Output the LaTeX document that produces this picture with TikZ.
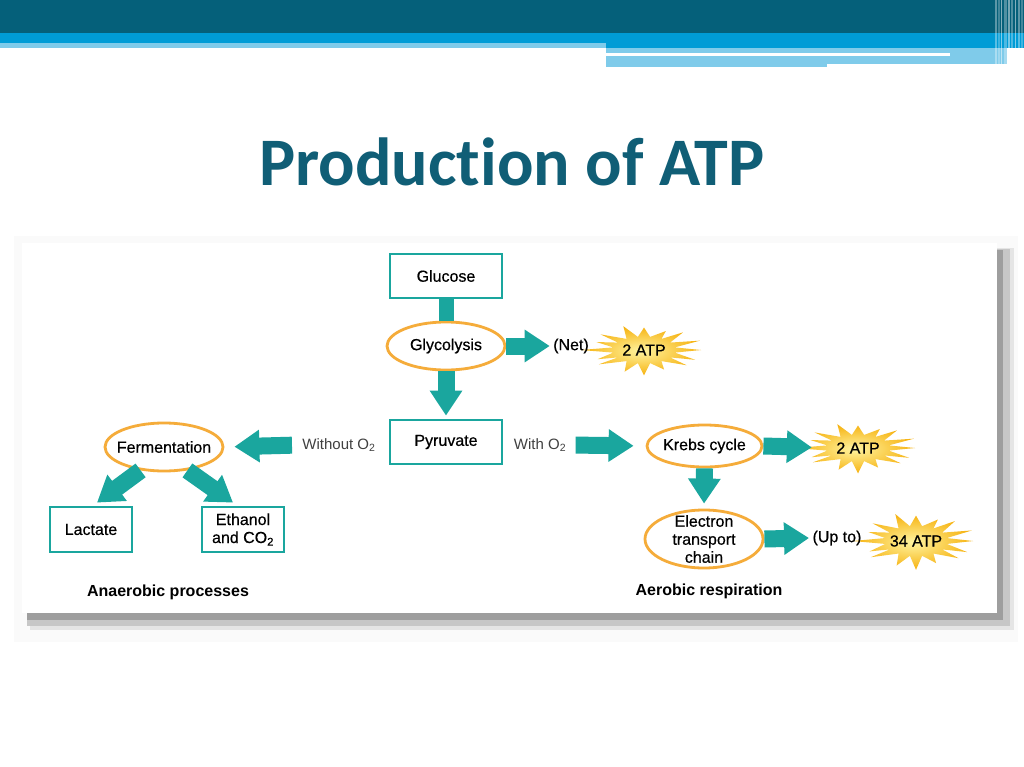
\documentclass[tikz,border=0pt]{standalone}
\usepackage{fontspec}
\setsansfont{Liberation Sans}
\newfontfamily\titlefont[Ligatures=NoCommon]{Carlito}
\newfontfamily\medfont[FakeBold=0.5]{Liberation Sans}
\usetikzlibrary{arrows.meta,shapes.geometric,calc}
\definecolor{hdark}{RGB}{5,96,122}
\definecolor{hblue}{RGB}{0,156,214}
\definecolor{hlight}{RGB}{127,203,234}
\definecolor{titlec}{RGB}{16,94,118}
\definecolor{tealc}{RGB}{26,166,158}
\definecolor{orangec}{RGB}{245,172,58}
\definecolor{burstin}{RGB}{255,244,160}
\definecolor{burstout}{RGB}{246,178,16}
\newcommand{\burstat}[4]{%
  \shade[inner color=burstin, outer color=burstout]
    ({#1+#3},{#2}) \foreach \k in {1,...,31}{
      -- ({#1 + (mod(\k,2)==0 ? (1+0.12*sin(\k*97)) : 0.55)*#3*cos(\k*360/32)},
          {#2 + (mod(\k,2)==0 ? (1+0.12*sin(\k*53)) : 0.58)*#4*sin(\k*360/32)})
    } -- cycle;}
\begin{document}
\begin{tikzpicture}[x=1pt,y=-1pt,
  lbl/.style={font=\medfont\fontsize{16}{18}\selectfont},
  box/.style={lbl, draw=tealc, line width=2.8pt, fill=white, inner sep=0pt, align=center},
  oval/.style={lbl, ellipse, draw=orangec, line width=2.8pt, fill=white, inner sep=0pt, align=center},
  soft/.style={font=\sffamily\fontsize{15}{17}\selectfont, text=black!75},
  caption/.style={font=\sffamily\bfseries\fontsize{16}{18}\selectfont},
  fat/.style={draw=tealc, line width=17pt, -{Triangle[width=31pt,length=25pt]}},
  fatbar/.style={draw=tealc, line width=15pt}]
\useasboundingbox (0,0) rectangle (1024,767);
\fill[white] (0,0) rectangle (1024,767);
% header bands
\fill[hdark] (0,0) rectangle (1024,33);
\fill[hblue] (0,33) rectangle (1024,43);
\fill[hlight] (0,43) rectangle (606,48);
\fill[hblue] (606,43) rectangle (1024,48);
\fill[hlight] (606,48) rectangle (1007,64);
\fill[hlight] (606,64) rectangle (827,67);
\fill[white] (606,53) rectangle (950,56.5);
\foreach \xx/\ww/\oo in {995/1.5/0.35,998/2/0.25,1001/1/0.5,1004/2.5/0.3,1008/1.5/0.45,1011/2/0.3,1015/1/0.5,1018/2/0.35,1021/1.5/0.25}
  \fill[white, opacity=\oo] (\xx,0) rectangle ++(\ww,67);
% title
\node[font=\titlefont\bfseries\fontsize{68}{70}\selectfont, text=titlec, anchor=base] (title) at (512,186) {Production of ATP};
% panel with shadow
\fill[black!2] (14,236) rectangle (1018,642);
\fill[black!10] (30,248) rectangle (1014,630);
\fill[black!22] (27,249) rectangle (1010,626);
\fill[black!38] (27,250) rectangle (1003,620);
\fill[white] (22,243) rectangle (997,613);
% bursts
\burstat{644}{350}{57}{23}
\burstat{858}{448}{57}{23}
\burstat{916}{541}{57}{26}
% nodes
\node[box, minimum width=112, minimum height=44] (glu) at (446,276) {Glucose};
\node[oval, minimum width=118, minimum height=48] (gly) at (446,346) {Glycolysis};
\node[lbl] (net) at (571,346) {(Net)};
\node[lbl] (atpA) at (644,350) {2 ATP};
\node[box, minimum width=112, minimum height=44] (pyr) at (446,442) {Pyruvate};
\node[soft] (without) at (339,445) {Without O\textsubscript{2}};
\node[oval, inner xsep=-10pt, minimum width=118, minimum height=48] (ferm) at (164,447) {Fermentation};
\node[box, minimum width=82, minimum height=45] (lact) at (91,529.5) {Lactate};
\node[box, minimum width=82, minimum height=45] (eth) at (243,529.5) {Ethanol\\and CO\textsubscript{2}};
\node[caption] (anaer) at (168,592) {Anaerobic processes};
\node[soft] (with) at (540,445) {With O\textsubscript{2}};
\node[oval, inner xsep=-8pt, minimum width=115, minimum height=42] (krebs) at (704.5,446) {Krebs cycle};
\node[lbl] (atpB) at (858,448) {2 ATP};
\node[oval, inner xsep=-4pt, inner ysep=-10pt, minimum width=118, minimum height=58] (etc) at (704,539) {Electron\\transport\\chain};
\node[lbl] (upto) at (837,538) {(Up to)};
\node[lbl] (atpC) at (916,541) {34 ATP};
\node[caption] (aer) at (709,591) {Aerobic respiration};
% connectors
\draw[fatbar] (glu.south) -- (gly.north);
\draw[fat] (gly.east) -- (net.west);
\draw[fat, shorten >=3pt] (gly.south) -- (pyr.north);
\draw[fat, shorten <=7pt, shorten >=10pt] (without.west) -- (ferm.east);
\draw[fat, shorten <=6pt, shorten >=12pt] (with.east) -- (krebs.west);
\draw[fat, shorten >=21pt] (krebs.east) -- (atpB.west);
\draw[fat, shorten >=5pt] (krebs.south) -- (etc.north);
\draw[fat] (etc.east) -- (upto.west);
\draw[fat] (ferm.225) -- ($(lact.north)+(6,-3)$);
\draw[fat] (ferm.-45) -- ($(eth.north)+(-10,-3)$);
\end{tikzpicture}
\end{document}
